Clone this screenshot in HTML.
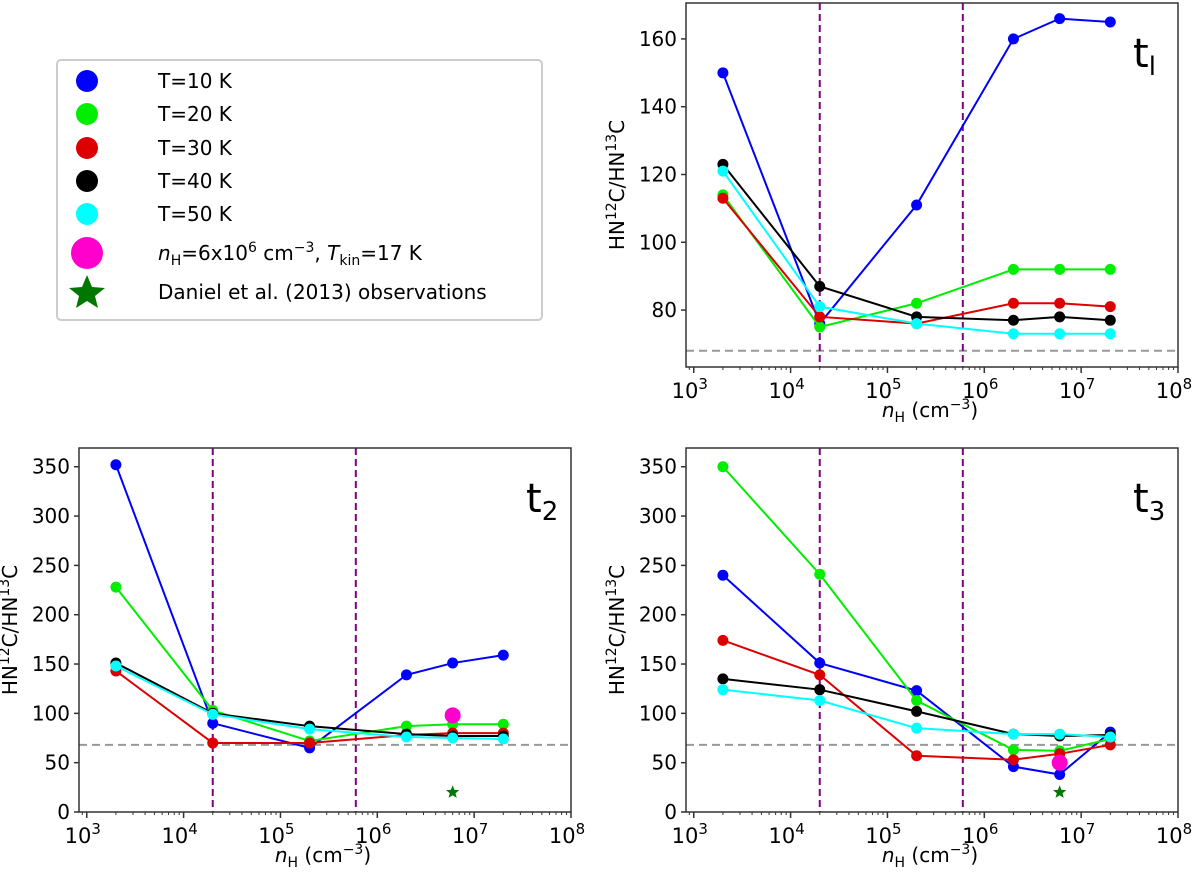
<!DOCTYPE html>
<html><head><meta charset="utf-8"><style>
body{margin:0;background:#fff;}
svg text{font-family:"DejaVu Sans","Liberation Sans",sans-serif;}
</style></head><body>
<svg id="fig" width="1200" height="873" xmlns="http://www.w3.org/2000/svg">
<g id="legend">
<rect x="57" y="60" width="485" height="260" rx="4" fill="#fff" stroke="#ccc" stroke-width="2"/>
<circle cx="87" cy="81" r="11" fill="#0000ff"/><text x="158" y="88" font-size="20">T=10 K</text>
<circle cx="87" cy="114" r="11" fill="#00ee00"/><text x="158" y="121" font-size="20">T=20 K</text>
<circle cx="87" cy="148" r="11" fill="#dd0000"/><text x="158" y="155" font-size="20">T=30 K</text>
<circle cx="87" cy="181" r="11" fill="#000"/><text x="158" y="188" font-size="20">T=40 K</text>
<circle cx="87" cy="214" r="11" fill="#00ffff"/><text x="158" y="221" font-size="20">T=50 K</text>
<circle cx="87" cy="253" r="16" fill="#ff00cc"/><text x="158" y="260" font-size="20"><tspan font-style="italic">n</tspan><tspan font-size="14" dy="5">H</tspan><tspan dy="-5">=6x10</tspan><tspan font-size="14" dy="-8">6</tspan><tspan dy="8"> cm</tspan><tspan font-size="14" dy="-8">−3</tspan><tspan dy="8">, </tspan><tspan font-style="italic">T</tspan><tspan font-size="14" dy="5">kin</tspan><tspan dy="-5">=17 K</tspan></text>
<polygon points="87,275 92,287 105,288 95,296 98,308 87,301 76,308 79,296 69,288 82,287" fill="#007700"/>
<text x="158" y="299" font-size="20">Daniel et al. (2013) observations</text>
</g>
</svg>
<script>
const xsLog = [2e3, 2e4, 2e5, 2e6, 6e6, 2e7];
const colors = ['#0000ff','#00ee00','#dd0000','#000000','#00ffff'];
const seriesNames = ['t10','t20','t30','t40','t50'];
const t1_T10 = [150,76,111,160,166,165];
const t1_T20 = [114,75,82,92,92,92];
const t1_T30 = [113,78,76,82,82,81];
const t1_T40 = [123,87,78,77,78,77];
const t1_T50 = [121,81,76,73,73,73];
const t2_T10 = [352,90,65,139,151,159];
const t2_T20 = [228,103,72,87,89,89];
const t2_T30 = [143,70,70,78,80,80];
const t2_T40 = [151,100,87,79,77,77];
const t2_T50 = [148,99,84,76,75,74];
const t3_T10 = [240,151,123,46,38,81];
const t3_T20 = [350,241,113,63,62,74];
const t3_T30 = [174,139,57,53,59,68];
const t3_T40 = [135,124,102,79,77,78];
const t3_T50 = [124,113,85,79,79,76];
const modelX = 6e6;
const t2_model = 98, t3_model = 50;
const obsX = 6e6, obsY = 20;
const t1_ticks = [80,100,120,140,160];
const t23_ticks = [0,50,100,150,200,250,300,350];
const xTickExp = [3,4,5,6,7,8];
const vlines = [2e4, 6e5];
const refLine = 68;

const NS='http://www.w3.org/2000/svg';
const svg=document.getElementById('fig');
function mk(tag,attrs,parent){const e=document.createElementNS(NS,tag);for(const k in attrs)e.setAttribute(k,attrs[k]);(parent||svg).appendChild(e);return e;}

function panel(name,box,ylim,yticks,series,label,model){
  const g=mk('g',{});
  
  
  const [x0,y0,x1,y1]=box, lx0=2.92, lx1=8.0;
  const X=v=>x0+(Math.log10(v)-lx0)/(lx1-lx0)*(x1-x0);
  const Y=v=>y1-(v-ylim[0])/(ylim[1]-ylim[0])*(y1-y0);
  const rl=mk('line',{x1:x0,x2:x1,y1:Y(refLine),y2:Y(refLine),stroke:'#999','stroke-width':2,'stroke-dasharray':'8,5'},g);
  
  
  vlines.forEach(v=>{const l=mk('line',{x1:X(v),x2:X(v),y1:y0,y2:y1,stroke:'#800080','stroke-width':2,'stroke-dasharray':'7,4'},g);
    
    });
  series.forEach((s,i)=>{
    const p=mk('polyline',{points:s.map((v,j)=>X(xsLog[j])+','+Y(v)).join(' '),fill:'none',stroke:colors[i],'stroke-width':2},g);
    
    
    s.forEach((v,j)=>{const c=mk('circle',{cx:X(xsLog[j]),cy:Y(v),r:5.5,fill:colors[i]},g);
      
      });
  });
  if(model!==undefined){
    const m=mk('ellipse',{cx:X(modelX),cy:Y(model),rx:8,ry:8,fill:'#ff00cc'},g);
    
    
    const cx=X(obsX),cy=Y(obsY);let pts=[];
    for(let k=0;k<10;k++){const r=k%2?3:7,a=-Math.PI/2+k*Math.PI/5;pts.push((cx+r*Math.cos(a))+','+(cy+r*Math.sin(a)));}
    const st=mk('polygon',{points:pts.join(' '),fill:'#007700'},g);
    
    
  }
  mk('rect',{x:x0,y:y0,width:x1-x0,height:y1-y0,fill:'none',stroke:'#333','stroke-width':1.5},g);
  yticks.forEach(t=>{mk('line',{x1:x0-5,x2:x0,y1:Y(t),y2:Y(t),stroke:'#333','stroke-width':1.5},g);
    const tx=mk('text',{x:x0-9,y:Y(t)+7,'font-size':20,'text-anchor':'end'},g);tx.textContent=t;
    
    });
  xTickExp.forEach(e=>{const xx=X(Math.pow(10,e));
    mk('line',{x1:xx,x2:xx,y1:y1,y2:y1+6,stroke:'#333','stroke-width':1.5},g);
    const tx=mk('text',{x:xx-4,y:y1+31,'font-size':21,'text-anchor':'middle'},g);
    tx.innerHTML='10<tspan font-size="15" dy="-9">'+e+'</tspan>';
    
    
    for(let m=2;m<10;m++){const v=Math.pow(10,e-1)*m;const mx=X(v);if(mx>=x0&&mx<=x1)mk('line',{x1:mx,x2:mx,y1:y1,y2:y1+3,stroke:'#333'},g);}
  });
  const xl=mk('text',{x:(x0+x1)/2-2,y:y1+50,'font-size':20,'text-anchor':'middle'},g);
  xl.innerHTML='<tspan font-style="italic">n</tspan><tspan font-size="14" dy="5">H</tspan><tspan dy="-5"> (cm</tspan><tspan font-size="14" dy="-8">−3</tspan><tspan dy="8">)</tspan>';
  
  
  const yl=mk('text',{x:0,y:0,'font-size':20,'text-anchor':'middle',transform:`translate(${x0-62},${(y0+y1)/2}) rotate(-90)`},g);
  yl.innerHTML='HN<tspan font-size="14" dy="-8">12</tspan><tspan dy="8">C/HN</tspan><tspan font-size="14" dy="-8">13</tspan><tspan dy="8">C</tspan>';
  
  
  const pl=mk('text',{x:x1-45,y:y0+64,'font-size':40},g);
  pl.innerHTML='t<tspan font-size="26" dy="8">'+label+'</tspan>';
  
  
}
panel('panel-t1',[686,3,1178,367],[63.2,170.6],t1_ticks,[t1_T10,t1_T20,t1_T30,t1_T40,t1_T50],'l');
panel('panel-t2',[79,448,571,812],[0,369],t23_ticks,[t2_T10,t2_T20,t2_T30,t2_T40,t2_T50],'2',t2_model);
panel('panel-t3',[686,448,1178,812],[0,369],t23_ticks,[t3_T10,t3_T20,t3_T30,t3_T40,t3_T50],'3',t3_model);
</script>
</body></html>
